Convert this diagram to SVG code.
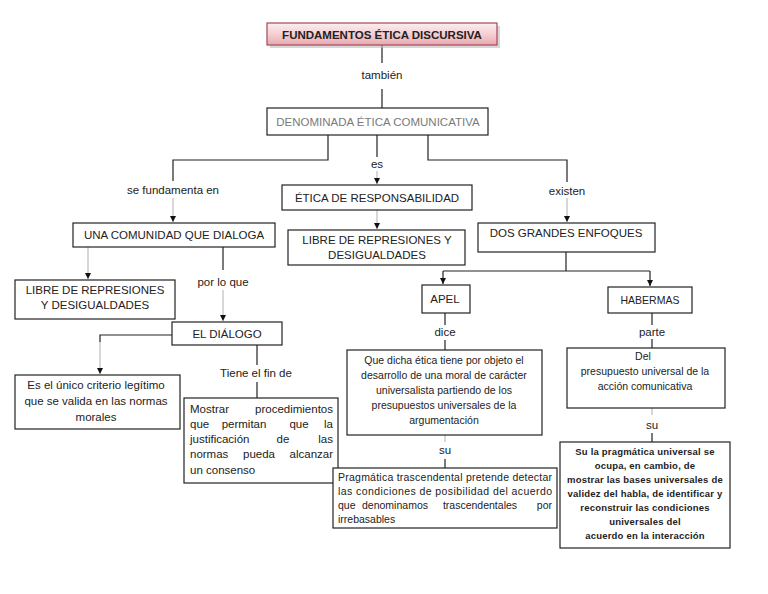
<svg xmlns="http://www.w3.org/2000/svg" width="768" height="594" viewBox="0 0 768 594">
<defs>
<linearGradient id="pink" x1="0" y1="0" x2="0" y2="1">
<stop offset="0" stop-color="#fdeef0"/>
<stop offset="0.5" stop-color="#f5cfd3"/>
<stop offset="1" stop-color="#e9a9b0"/>
</linearGradient>
<marker id="arr" viewBox="0 0 6 6" refX="6" refY="3" markerWidth="6" markerHeight="6" orient="auto" markerUnits="userSpaceOnUse">
<path d="M0,0 L6,3 L0,6 Z" fill="#111"/>
</marker>
<style>
.box{fill:#fff;stroke:#222;stroke-width:1.2}
.t{font-family:"Liberation Sans",Arial,sans-serif;font-size:11.5px;fill:#222}
.c{text-anchor:middle}
.e{text-anchor:end}
.s{font-size:10.5px}
.b{font-weight:bold}
.xs{font-size:9.5px;font-weight:bold;letter-spacing:0.2px}
.g{fill:#7a7a7a}
.dk{fill:none;stroke:#222;stroke-width:1.2}
.lt{fill:none;stroke:#bdbdbd;stroke-width:1.2}
</style>
</defs>
<rect width="768" height="594" fill="#fff"/>

<g id="connectors">
<path class="dk" d="M382,45 V63"/>
<path class="dk" d="M382,89 V108"/>
<path class="dk" d="M328,135 V160 H173 V181"/>
<path class="lt" d="M173,198 V222" marker-end="url(#arr)"/>
<path class="dk" d="M377,135 V157"/>
<path class="lt" d="M377,171 V184" marker-end="url(#arr)"/>
<path class="dk" d="M428,135 V160 H567 V182"/>
<path class="lt" d="M567,198 V222" marker-end="url(#arr)"/>
<path class="lt" d="M377,210 V229" marker-end="url(#arr)"/>
<path class="lt" d="M88,247 V279" marker-end="url(#arr)"/>
<path class="dk" d="M223,247 V270"/>
<path class="lt" d="M223,290 V321" marker-end="url(#arr)"/>
<path class="dk" d="M566,252 V271"/>
<path class="dk" d="M443,271 H650"/>
<path class="dk" d="M443,271 V284" marker-end="url(#arr)"/>
<path class="dk" d="M650,271 V286" marker-end="url(#arr)"/>
<path class="dk" d="M172,335 H100 V342"/>
<path class="lt" d="M100,342 V374" marker-end="url(#arr)"/>
<path class="dk" d="M257,345 V365"/>
<path class="dk" d="M257,382 V398"/>
<path class="dk" d="M445,313 V325"/>
<path class="dk" d="M445,340 V350"/>
<path class="lt" d="M445,435 V442"/>
<path class="dk" d="M445,459 V468"/>
<path class="dk" d="M652,313 V325"/>
<path class="dk" d="M652,339 V348"/>
<path class="lt" d="M652,408 V415"/>
<path class="dk" d="M652,433 V442"/>
</g>

<g id="title">
<rect x="270" y="26" width="230" height="22" fill="#bdbdbd" opacity="0.6"/>
<rect x="267" y="23" width="230" height="22" fill="url(#pink)" stroke="#a5485a" stroke-width="1.2"/>
<text class="t b c" x="382" y="38.5">FUNDAMENTOS ÉTICA DISCURSIVA</text>
</g>
<g id="lbl-tambien"><text class="t c" x="382" y="79">también</text></g>

<g id="denominada">
<rect class="box" x="267" y="108" width="221" height="27"/>
<text class="t c g" x="378" y="125.5">DENOMINADA ÉTICA COMUNICATIVA</text>
</g>

<g id="lbl-se"><text class="t c" x="173" y="194">se fundamenta en</text></g>
<g id="lbl-es"><text class="t c" x="377" y="168">es</text></g>
<g id="lbl-existen"><text class="t c" x="567" y="195">existen</text></g>

<g id="comunidad">
<rect class="box" x="73" y="223" width="202" height="24"/>
<text class="t c" x="174" y="239">UNA COMUNIDAD QUE DIALOGA</text>
</g>

<g id="etica-resp">
<rect class="box" x="282" y="185" width="190" height="25"/>
<text class="t c" x="377" y="201.5">ÉTICA DE RESPONSABILIDAD</text>
</g>

<g id="libre2">
<rect class="box" x="288" y="230" width="177" height="35"/>
<text class="t c" x="377" y="244">LIBRE DE REPRESIONES Y</text>
<text class="t c" x="377" y="259">DESIGUALDADES</text>
</g>

<g id="dos">
<rect class="box" x="478" y="223" width="177" height="29"/>
<text class="t c" x="566" y="237">DOS GRANDES ENFOQUES</text>
</g>

<g id="libre1">
<rect class="box" x="15" y="280" width="160" height="39"/>
<text class="t c" x="95" y="294">LIBRE DE REPRESIONES</text>
<text class="t c" x="95" y="309">Y DESIGUALDADES</text>
</g>

<g id="lbl-porloque"><text class="t c" x="223" y="286">por lo que</text></g>

<g id="dialogo">
<rect class="box" x="172" y="322" width="110" height="23"/>
<text class="t c" x="227" y="337.5">EL DIÁLOGO</text>
</g>

<g id="lbl-tiene"><text class="t c" x="256" y="377">Tiene el fin de</text></g>

<g id="unico">
<rect class="box" x="15" y="375" width="165" height="54"/>
<text class="t c" x="96" y="389">Es el único criterio legítimo</text>
<text class="t c" x="96" y="405">que se valida en las normas</text>
<text class="t c" x="96" y="421">morales</text>
</g>

<g id="mostrar">
<rect class="box" x="184" y="398" width="154" height="85"/>
<text class="t" x="190" y="413">Mostrar</text><text class="t e" x="333" y="413">procedimientos</text>
<text class="t" x="190" y="428">que</text><text class="t c" x="244" y="428">permitan</text><text class="t c" x="299" y="428">que</text><text class="t e" x="333" y="428">la</text>
<text class="t" x="190" y="443">justificación</text><text class="t c" x="283" y="443">de</text><text class="t e" x="333" y="443">las</text>
<text class="t" x="190" y="458">normas</text><text class="t c" x="259" y="458">pueda</text><text class="t e" x="333" y="458">alcanzar</text>
<text class="t" x="190" y="474">un consenso</text>
</g>

<g id="apel">
<rect class="box" x="422" y="285" width="48" height="28"/>
<text class="t c" x="445" y="303">APEL</text>
</g>
<g id="lbl-dice"><text class="t c" x="445" y="336">dice</text></g>

<g id="quedicha">
<rect class="box" x="347" y="350" width="195" height="85"/>
<text class="t s c" x="444" y="364">Que dicha ética tiene por objeto el</text>
<text class="t s c" x="444" y="379">desarrollo de una moral de carácter</text>
<text class="t s c" x="444" y="394">universalista partiendo de los</text>
<text class="t s c" x="444" y="409">presupuestos universales de la</text>
<text class="t s c" x="444" y="424">argumentación</text>
</g>
<g id="lbl-su1"><text class="t c" x="445" y="454">su</text></g>

<g id="pragmatica">
<rect class="box" x="333" y="468" width="224" height="60"/>
<text class="t s" x="338" y="481" textLength="214" lengthAdjust="spacing">Pragmática trascendental pretende detectar</text>
<text class="t s" x="338" y="495" textLength="214" lengthAdjust="spacing">las condiciones de posibilidad del acuerdo</text>
<text class="t s" x="338" y="509">que</text><text class="t s c" x="395" y="509">denominamos</text><text class="t s c" x="480" y="509">trascendentales</text><text class="t s e" x="552" y="509">por</text>
<text class="t s" x="338" y="523">irrebasables</text>
</g>

<g id="habermas">
<rect class="box" x="608" y="287" width="84" height="26"/>
<text class="t s c" x="650" y="304">HABERMAS</text>
</g>
<g id="lbl-parte"><text class="t c" x="652" y="336">parte</text></g>

<g id="del">
<rect class="box" x="567" y="348" width="158" height="60"/>
<text class="t s c" x="643" y="360">Del</text>
<text class="t s c" x="645" y="375">presupuesto universal de la</text>
<text class="t s c" x="645" y="390">acción comunicativa</text>
</g>
<g id="lbl-su2"><text class="t c" x="652" y="429">su</text></g>

<g id="sula">
<rect class="box" x="560" y="442" width="170" height="106"/>
<text class="t xs c" x="645" y="455">Su la pragmática universal se</text>
<text class="t xs c" x="645" y="469">ocupa, en cambio, de</text>
<text class="t xs c" x="645" y="483">mostrar las bases universales de</text>
<text class="t xs c" x="645" y="497">validez del habla, de identificar y</text>
<text class="t xs c" x="645" y="511">reconstruir las condiciones</text>
<text class="t xs c" x="645" y="525">universales del</text>
<text class="t xs c" x="645" y="539">acuerdo en la interacción</text>
</g>
</svg>
